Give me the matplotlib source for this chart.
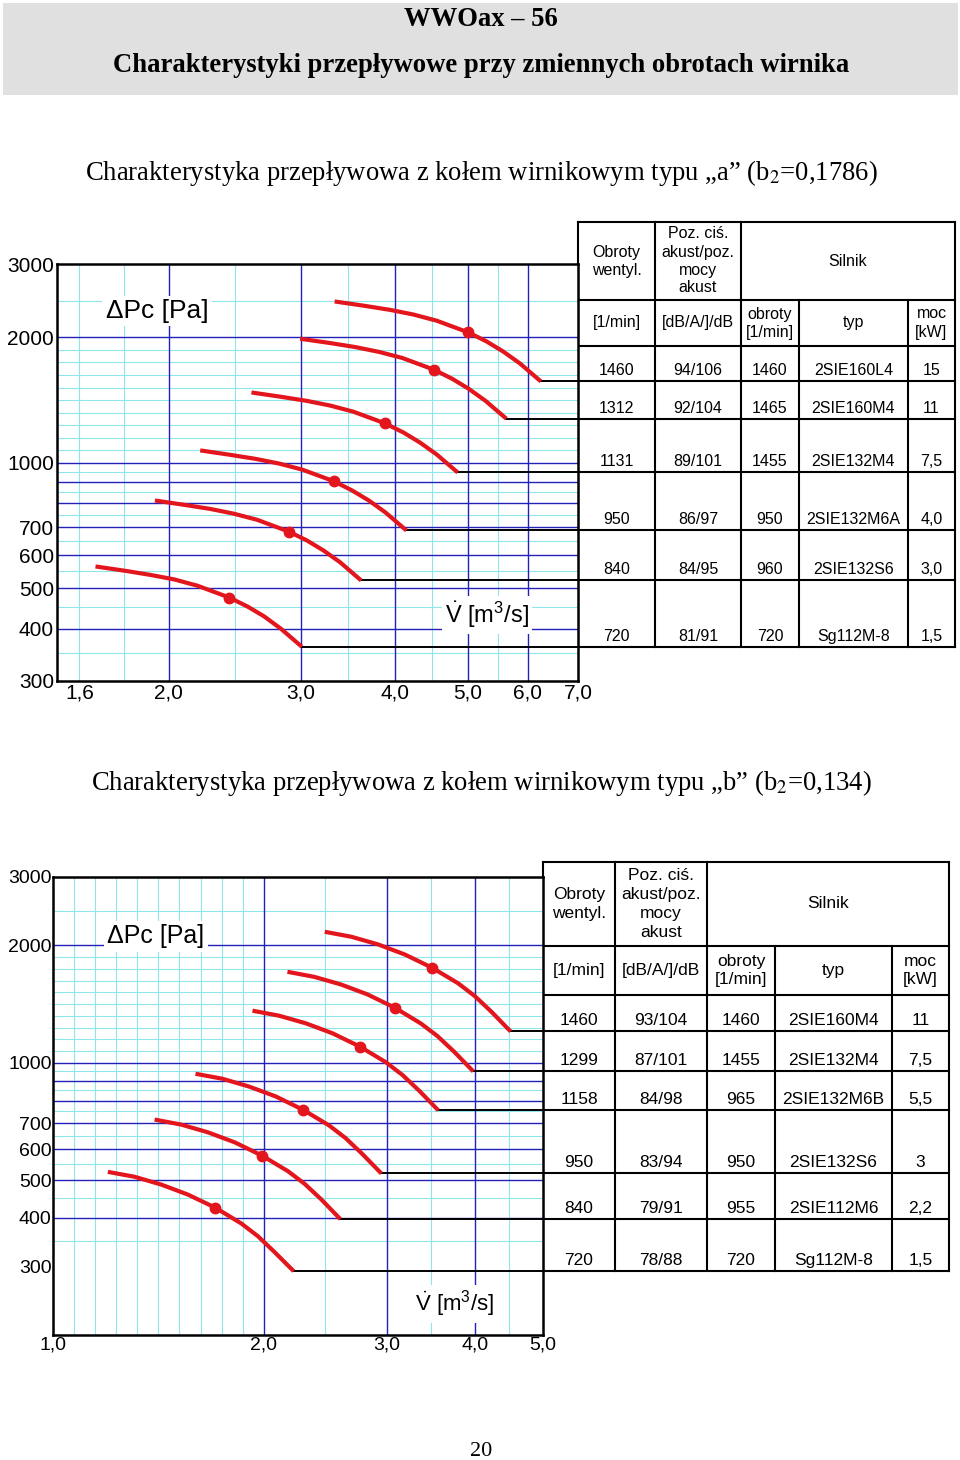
import numpy as np
import matplotlib.pyplot as plt
from matplotlib.patches import Rectangle

plt.rcParams["font.family"] = ["Liberation Sans", "DejaVu Sans"]
plt.rcParams["mathtext.fontset"] = "custom"
plt.rcParams["mathtext.rm"] = "Liberation Sans"
plt.rcParams["mathtext.it"] = "Liberation Sans:italic"
plt.rcParams["mathtext.bf"] = "Liberation Sans:bold"

W, H = 960, 1460
RED, BLUE, CYAN = "#e3161d", "#2222b8", "#8ee6ea"
SERIF = ["Liberation Serif", "DejaVu Serif"]

# ---------- wirnik typu "a"
a_speed = ["1460", "1312", "1131", "950", "840", "720"]
a_noise = ["94/106", "92/104", "89/101", "86/97", "84/95", "81/91"]
a_motor_rpm = ["1460", "1465", "1455", "950", "960", "720"]
a_motor_type = ["2SIE160L4", "2SIE160M4", "2SIE132M4", "2SIE132M6A", "2SIE132S6", "Sg112M-8"]
a_power = ["15", "11", "7,5", "4,0", "3,0", "1,5"]
a_flow = [
    [3.324, 3.632, 3.940, 4.231, 4.543, 5.006, 5.293, 5.569, 5.860, 6.248],
    [2.991, 3.268, 3.545, 3.807, 4.088, 4.504, 4.763, 5.011, 5.273, 5.622],
    [2.577, 2.816, 3.054, 3.280, 3.522, 3.881, 4.104, 4.318, 4.543, 4.844],
    [2.203, 2.407, 2.611, 2.804, 3.011, 3.317, 3.508, 3.691, 3.884, 4.141],
    [1.918, 2.096, 2.273, 2.441, 2.622, 2.888, 3.054, 3.213, 3.381, 3.605],
    [1.599, 1.747, 1.895, 2.035, 2.185, 2.408, 2.546, 2.679, 2.819, 3.006],
]
a_press = [
    [2439, 2383, 2328, 2269, 2193, 2055, 1955, 1849, 1732, 1568],
    [1985, 1940, 1895, 1846, 1785, 1673, 1591, 1505, 1409, 1276],
    [1475, 1441, 1408, 1372, 1326, 1243, 1182, 1118, 1047, 948],
    [1071, 1046, 1022, 996, 963, 903, 858, 812, 760, 688],
    [812, 793, 775, 755, 730, 684, 651, 616, 577, 522],
    [564, 551, 538, 525, 507, 475, 452, 428, 400, 362],
]
a_pt_flow = [5.006, 4.504, 3.881, 3.317, 2.888, 2.408]
a_pt_press = [2055, 1673, 1243, 903, 684, 475]

# ---------- wirnik typu "b"
b_speed = ["1460", "1299", "1158", "950", "840", "720"]
b_noise = ["93/104", "87/101", "84/98", "83/94", "79/91", "78/88"]
b_motor_rpm = ["1460", "1455", "965", "950", "955", "720"]
b_motor_type = ["2SIE160M4", "2SIE132M4", "2SIE132M6B", "2SIE132S6", "2SIE112M6", "Sg112M-8"]
b_power = ["11", "7,5", "5,5", "3", "2,2", "1,5"]
b_flow = [
    [2.444, 2.668, 2.913, 3.180, 3.479, 3.790, 4.003, 4.228, 4.502],
    [2.162, 2.360, 2.577, 2.813, 3.077, 3.352, 3.541, 3.740, 3.983],
    [1.927, 2.104, 2.297, 2.507, 2.743, 2.988, 3.156, 3.333, 3.550],
    [1.598, 1.745, 1.905, 2.079, 2.274, 2.478, 2.617, 2.764, 2.944],
    [1.397, 1.525, 1.665, 1.818, 1.988, 2.166, 2.288, 2.417, 2.573],
    [1.198, 1.308, 1.428, 1.559, 1.705, 1.858, 1.962, 2.072, 2.207],
]
b_press = [
    [2167, 2104, 2011, 1895, 1752, 1598, 1482, 1351, 1203],
    [1711, 1661, 1588, 1497, 1384, 1261, 1170, 1067, 950],
    [1360, 1320, 1262, 1190, 1100, 1003, 930, 848, 755],
    [937, 910, 869, 820, 758, 691, 641, 584, 520],
    [715, 694, 663, 625, 578, 527, 489, 446, 397],
    [525, 510, 487, 459, 425, 387, 359, 327, 292],
]
b_pt_flow = [3.479, 3.077, 2.743, 2.274, 1.988, 1.705]
b_pt_press = [1752, 1384, 1100, 758, 578, 425]

y_ticks = [300, 400, 500, 600, 700, 1000, 2000, 3000]
a_xticks = [1.522, 2, 3, 4, 5, 6, 7]
a_xlabels = ["1,6", "2,0", "3,0", "4,0", "5,0", "6,0", "7,0"]
b_xticks = [1, 2, 3, 4, 5]
b_xlabels = ["1,0", "2,0", "3,0", "4,0", "5,0"]

fig = plt.figure(figsize=(W / 100, H / 100), dpi=100)
page = fig.add_axes([0, 0, 1, 1], zorder=0)
page.set_xlim(0, W)
page.set_ylim(H, 0)
page.axis("off")

# grid lines of the nomogram paper
fine = list(1000 * 2 ** (np.arange(1, 10) / 10))
half_y = [350, 450, 550, 650, 750, 850, 950, 2449]
maj_y = [400, 500, 600, 700, 800, 900, 1000, 2000]


def chart(box, xlim, ylim, xmaj, xmin, xticks, xlabels, fs, pad):
    l, t, r, b = box
    ax = fig.add_axes([l / W, 1 - b / H, (r - l) / W, (b - t) / H], zorder=2)
    ax.set_xscale("log")
    ax.set_yscale("log")
    ax.set_xlim(*xlim)
    ax.set_ylim(*ylim)
    for v in xmin:
        ax.axvline(v, color=CYAN, lw=0.8, zorder=1)
    for v in half_y + fine:
        ax.axhline(v, color=CYAN, lw=0.8, zorder=1)
    for v in xmaj:
        ax.axvline(v, color=BLUE, lw=1.0, zorder=1.5)
    for v in maj_y:
        ax.axhline(v, color=BLUE, lw=1.0, zorder=1.5)
    ax.set_xticks(xticks, xlabels)
    ax.set_yticks(y_ticks, [str(v) for v in y_ticks])
    ax.minorticks_off()
    ax.tick_params(length=0, labelsize=fs, pad=pad)
    for s in ax.spines.values():
        s.set_linewidth(1.8)
        s.set_zorder(10)
    return ax


def curves(ax, flows, presses, pf, pp, right_px):
    x_right = ax.transData.inverted().transform((right_px, 0))[0]
    for q, p in zip(flows, presses):
        ax.plot([q[-1], x_right], [p[-1], p[-1]], color="k", lw=1.4,
                zorder=4, clip_on=False)
        ax.plot(q, p, color=RED, lw=3.0, zorder=5, solid_capstyle="butt",
                solid_joinstyle="round")
    ax.plot(pf, pp, "o", ms=7.5, color=RED, zorder=6)


def label(ax, x, y, s, fs):
    ax.annotate(s, xy=(x, H - y), xycoords="figure pixels", ha="center",
                va="center", fontsize=fs, zorder=3,
                bbox=dict(fc="white", ec="none", pad=2.5))


def table(ax, cols, top, mid, bot, ends, rows, fs, ls):
    ys = [H - ax.transData.transform((1, p))[1] for p in ends]
    last = ys[-1]
    for y in [top, mid, bot] + ys:
        page.plot([cols[0], cols[-1]], [y, y], color="k", lw=1.5)
    for i, c in enumerate(cols):
        y0 = mid if i in (3, 4) else top
        page.plot([c, c], [y0, last], color="k", lw=1.5)
    cx = [(cols[i] + cols[i + 1]) / 2 for i in range(5)]
    hy = (top + mid) / 2
    kw = dict(ha="center", va="center", fontsize=fs, linespacing=ls)
    page.text(cx[0], hy, "Obroty\nwentyl.", **kw)
    page.text(cx[1], hy, "Poz. ciś.\nakust/poz.\nmocy\nakust", **kw)
    page.text((cols[2] + cols[5]) / 2, hy, "Silnik", **kw)
    for x, s in zip(cx, ["[1/min]", "[dB/A/]/dB", "obroty\n[1/min]", "typ", "moc\n[kW]"]):
        page.text(x, (mid + bot) / 2, s, **kw)
    for y, row in zip(ys, rows):
        for x, s in zip(cx, row):
            page.text(x, y - 10.5, s, **kw)


# header
page.add_patch(Rectangle((3, 3), 955, 92, fc="#e0e0e0", ec="none"))
page.text(481, 19, "WWOax – 56", family=SERIF, weight="bold", fontsize=19.2,
          ha="center", va="center")
page.text(481, 66, "Charakterystyki przepływowe przy zmiennych obrotach wirnika",
          family=SERIF, weight="bold", fontsize=19.2, ha="center", va="center")
page.text(481, 173, "Charakterystyka przepływowa z kołem wirnikowym typu „a” (b$_2$=0,1786)",
          family=SERIF, fontsize=19.2, math_fontfamily="stix", ha="center", va="center")
page.text(481, 783, "Charakterystyka przepływowa z kołem wirnikowym typu „b” (b$_2$=0,134)",
          family=SERIF, fontsize=19.2, math_fontfamily="stix", ha="center", va="center")
page.text(481, 1452, "20", family=SERIF, fontsize=16, ha="center", va="center")

# typ "a"
axA = chart((56.7, 264, 578, 680.7), (1.42, 7.0), (300, 3000), [2, 3, 4, 5, 6],
            [1.522, 1.746, 2.449, 3.464, 4.472, 5.477], a_xticks, a_xlabels, 15, 2)
curves(axA, a_flow, a_press, a_pt_flow, a_pt_press, 955)
label(axA, 157, 311, "ΔPc [Pa]", 19)
label(axA, 487, 615, r"$\dot{\mathrm{V}}$ [m$^{3}$/s]", 17)
table(axA, [578, 655, 741, 799, 908, 955], 222, 300, 346,
      [p[-1] for p in a_press],
      list(zip(a_speed, a_noise, a_motor_rpm, a_motor_type, a_power)), 11.5, 1.25)

# typ "b"
axB = chart((52.9, 876.7, 542.5, 1335.3), (1.0, 5.0), (200, 3000), [2, 3, 4],
            list(2 ** (np.arange(1, 10) / 10)) + [2.449, 3.464, 4.472],
            b_xticks, b_xlabels, 14, 1)
curves(axB, b_flow, b_press, b_pt_flow, b_pt_press, 949)
label(axB, 156, 936, "ΔPc [Pa]", 18)
label(axB, 455, 1304, r"$\dot{\mathrm{V}}$ [m$^{3}$/s]", 16)
table(axB, [543, 615, 707, 775, 892, 949], 862, 946, 995,
      [p[-1] for p in b_press],
      list(zip(b_speed, b_noise, b_motor_rpm, b_motor_type, b_power)), 12.5, 1.33)

fig.savefig("out.png", dpi=100)
